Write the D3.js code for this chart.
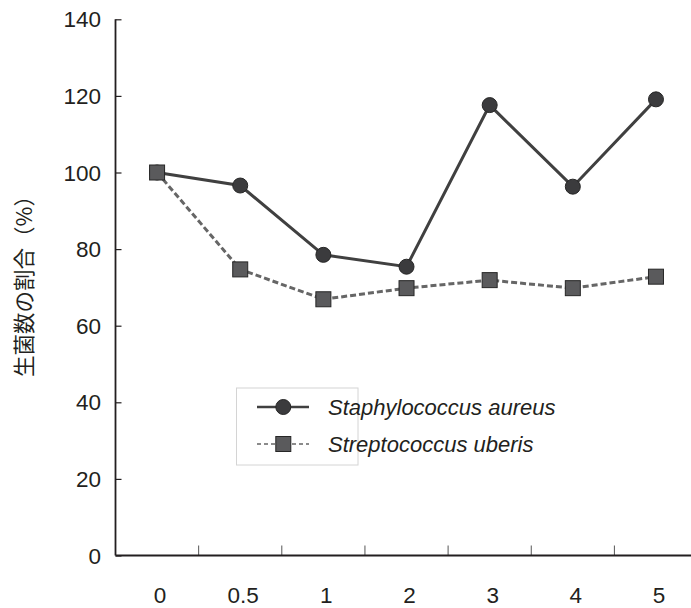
<!DOCTYPE html>
<html>
<head>
<meta charset="utf-8">
<script src="https://cdn.jsdelivr.net/npm/d3@7"></script>
<style>
  html, body { margin: 0; padding: 0; background: #fff; }
  svg { display: block; }
</style>
</head>
<body>
<svg id="chart" width="691" height="608"></svg>
<script>
// Time points (categorical axis)
const categories = ["0", "0.5", "1", "2", "3", "4", "5"];
// Surviving bacteria ratio (%) per organism
const staphValues = [100, 96.6, 78.5, 75.4, 117.6, 96.3, 119.1];
const streptValues = [100, 74.7, 66.9, 69.8, 71.9, 69.8, 72.8];
const seriesNames = ["Staphylococcus aureus", "Streptococcus uberis"];
const yTicks = [0, 20, 40, 60, 80, 100, 120, 140];
const yTitle = "生菌数の割合（%）";

const svg = d3.select("#chart");
const plotLeft = 115.5, plotTop = 19.3, plotBottom = 555.5, bandW = 83.15;
const font = "'Liberation Sans', Arial, sans-serif";
const ink = "#231f20";

const x = d3.scaleBand().domain(categories).range([plotLeft, plotLeft + bandW * categories.length]).padding(0);
const y = d3.scaleLinear().domain([0, 140]).range([plotBottom, plotTop]);
const cx = d => x(d) + x.bandwidth() / 2;

// Y axis
const yAxis = svg.append("g").attr("transform", `translate(${plotLeft},0)`)
  .call(d3.axisRight(y).tickValues(yTicks).tickSize(6).tickFormat(""));
yAxis.select(".domain").remove();
yAxis.selectAll(".tick line").attr("stroke", ink).attr("stroke-width", 1.2);
svg.append("line").attr("x1", plotLeft).attr("x2", plotLeft).attr("y1", y(140)).attr("y2", plotBottom)
  .attr("stroke", ink).attr("stroke-width", 1.8);
svg.append("g").selectAll("text").data(yTicks).join("text")
  .attr("x", 101).attr("y", d => y(d)).attr("dy", "0.36em")
  .attr("text-anchor", "end").attr("font-family", font).attr("font-size", 22.5)
  .attr("fill", ink).text(d => d);

// X axis: ticks mark band boundaries, labels sit in the bands
const bounds = categories.slice(1).map(c => x(c));
svg.append("g").selectAll("line").data(bounds).join("line")
  .attr("x1", d => d).attr("x2", d => d).attr("y1", plotBottom).attr("y2", plotBottom - 10)
  .attr("stroke", "#555").attr("stroke-width", 1);
svg.append("line").attr("x1", plotLeft).attr("x2", x.range()[1]).attr("y1", plotBottom).attr("y2", plotBottom)
  .attr("stroke", ink).attr("stroke-width", 2.2);
svg.append("g").selectAll("text").data(categories).join("text")
  .attr("x", d => cx(d) + 3).attr("y", 595).attr("dy", "0.36em")
  .attr("text-anchor", "middle").attr("font-family", font).attr("font-size", 22.5)
  .attr("fill", ink).text(d => d);

// Y title
svg.append("text")
  .attr("transform", `translate(32,281) rotate(-90)`)
  .attr("text-anchor", "middle")
  .attr("font-family", "'Noto Sans CJK JP', sans-serif").attr("font-size", 21.5)
  .attr("fill", ink).text(yTitle);

const line = d3.line().x((d, i) => cx(categories[i])).y(d => y(d));

// Streptococcus uberis: dashed line
svg.append("path").datum(streptValues).attr("d", line)
  .attr("fill", "none").attr("stroke", "#666").attr("stroke-width", 3)
  .attr("stroke-dasharray", "6,3");
// Staphylococcus aureus: solid line
svg.append("path").datum(staphValues).attr("d", line)
  .attr("fill", "none").attr("stroke", "#404040").attr("stroke-width", 3);

// Circle markers
svg.append("g").selectAll("circle").data(staphValues).join("circle")
  .attr("cx", (d, i) => cx(categories[i])).attr("cy", d => y(d)).attr("r", 7.5)
  .attr("fill", "#3b3b3d").attr("stroke", "#262626").attr("stroke-width", 1);
// Square markers
const sq = 15;
svg.append("g").selectAll("rect").data(streptValues).join("rect")
  .attr("x", (d, i) => cx(categories[i]) - sq / 2).attr("y", d => y(d) - sq / 2)
  .attr("width", sq).attr("height", sq)
  .attr("fill", "#5a5a5c").attr("stroke", "#262626").attr("stroke-width", 1);

// Legend
const lg = svg.append("g");
lg.append("rect").attr("x", 236.5).attr("y", 388).attr("width", 121.5).attr("height", 77)
  .attr("fill", "none").attr("stroke", "#d4d4d4").attr("stroke-width", 1);
const rows = [407, 444];
lg.append("line").attr("x1", 257).attr("x2", 309).attr("y1", rows[0]).attr("y2", rows[0])
  .attr("stroke", "#404040").attr("stroke-width", 2.5);
lg.append("circle").attr("cx", 283.3).attr("cy", rows[0]).attr("r", 7.5)
  .attr("fill", "#3b3b3d").attr("stroke", "#262626").attr("stroke-width", 1);
lg.append("line").attr("x1", 257).attr("x2", 309).attr("y1", rows[1]).attr("y2", rows[1])
  .attr("stroke", "#666").attr("stroke-width", 1.6).attr("stroke-dasharray", "4,3");
lg.append("rect").attr("x", 283.3 - sq / 2).attr("y", rows[1] - sq / 2).attr("width", sq).attr("height", sq)
  .attr("fill", "#5a5a5c").attr("stroke", "#262626").attr("stroke-width", 1);
lg.selectAll("text.lab").data(seriesNames).join("text").attr("class", "lab")
  .attr("x", 328).attr("y", (d, i) => rows[i]).attr("dy", "0.36em")
  .attr("font-family", font).attr("font-size", 22).attr("font-style", "italic")
  .attr("fill", ink).text(d => d);
</script>
</body>
</html>
